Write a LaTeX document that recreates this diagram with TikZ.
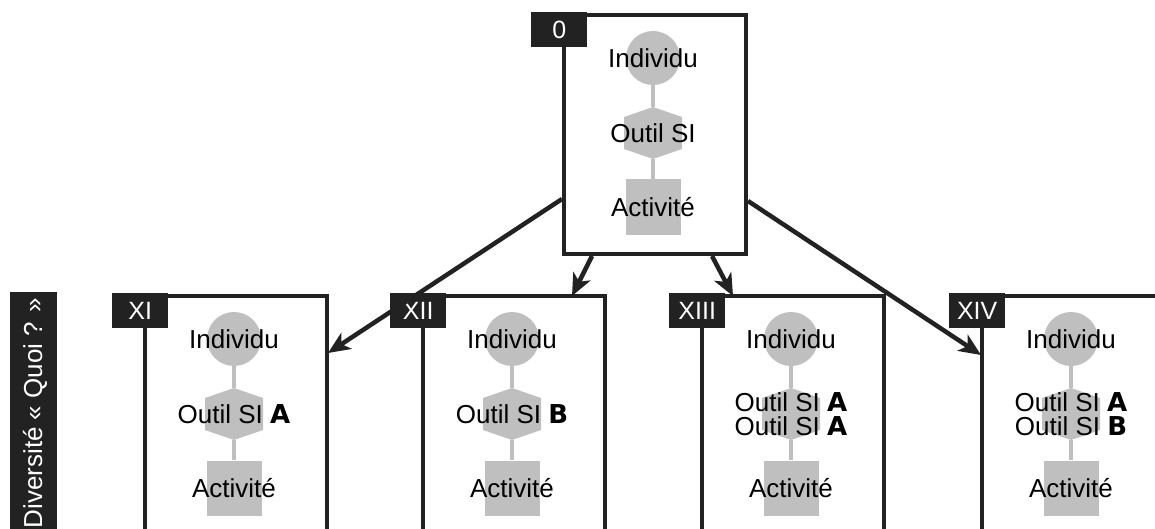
\documentclass[tikz,border=0pt]{standalone}
\usepackage{fontspec}
\setmainfont{Liberation Sans}
\newfontfamily\heavyfont{DejaVu Sans}
\usetikzlibrary{arrows.meta,calc}
\definecolor{ink}{HTML}{222222}
\definecolor{greyfill}{HTML}{BFBFBF}
\newcommand{\bA}{{\heavyfont\bfseries A}}
\newcommand{\bB}{{\heavyfont\bfseries B}}
\tikzset{
  frame/.style={draw=ink, line width=4pt, minimum width=182pt, inner sep=0pt},
  disc/.style={circle, fill=greyfill, minimum size=54pt, inner sep=0pt},
  sq/.style={rectangle, fill=greyfill, minimum size=55pt, inner sep=0pt},
  link/.style={draw=greyfill, line width=4.5pt},
  txt/.style={font=\fontsize{26}{24}\selectfont, align=center, inner sep=0pt, text=black},
  tag/.style={fill=ink, text=white, minimum width=56pt, minimum height=35pt, inner sep=0pt, font=\fontsize{25}{25}\selectfont},
  arr/.style={draw=ink, line width=4.5pt, -{Stealth[length=22pt,width=19pt,inset=6pt]}},
}
% #1 name, #2 x, #3 y, #4 height, #5 tag, #6 tool text
\newcommand{\unitbox}[6]{%
  \node[frame, minimum height=#4, anchor=north west] (#1) at (#2,#3) {};
  \node[disc] (#1-c) at ($(#1.north west)+(91,45)$) {};
  \coordinate (#1-h) at ($(#1.north west)+(91,120)$);
  \fill[greyfill] ($(#1-h)+(0,-26)$) coordinate (#1-ht) -- ++(29,10) -- ++(0,32) -- ++(-29,10) coordinate (#1-hb) -- ++(-29,-10) -- ++(0,-32) -- cycle;
  \node[sq] (#1-s) at ($(#1.north west)+(91,194)$) {};
  \draw[link] (#1-c.south) -- (#1-ht);
  \draw[link] (#1-hb) -- (#1-s.north);
  \node[txt] (#1-t1) at (#1-c) {Individu};
  \node[txt] (#1-t2) at (#1-h) {#6};
  \node[txt] (#1-t3) at (#1-s) {Activité};
  \node[tag, anchor=north west] (#1-tag) at ($(#1.north west)+(-31,-1)$) {#5};
}
\begin{document}
\begin{tikzpicture}[x=1pt,y=-1pt]
\useasboundingbox (0,0) rectangle (1155,529);
\clip (0,0) rectangle (1155,529);
\unitbox{b0}{562}{13}{239pt}{0}{Outil SI}
\unitbox{b11}{143}{294}{300pt}{XI}{Outil SI \bA}
\unitbox{b12}{421}{294}{300pt}{XII}{Outil SI \bB}
\unitbox{b13}{700}{294}{300pt}{XIII}{Outil SI \bA\\Outil SI \bA}
\unitbox{b14}{980}{294}{300pt}{XIV}{Outil SI \bA\\Outil SI \bB}
\node[fill=ink, minimum width=47pt, minimum height=260pt, inner sep=0pt, anchor=north west] (side) at (10,292) {};
\node[rotate=90, text=white, font=\fontsize{26}{26}\selectfont, inner sep=0pt] (sidetext) at (35,413) {Diversité « Quoi ? »};
\draw[arr] ($(b0.south west)+(0,-57)$) -- ($(b11.north east)+(-1,59)$);
\draw[arr] ($(b0.south west)+(30,0)$) -- ($(b12.north west)+(151,2)$);
\draw[arr] ($(b0.south west)+(150,0)$) -- ($(b13.north west)+(33,2)$);
\draw[arr] ($(b0.south east)+(0,-55)$) -- ($(b14.north west)+(1,61)$);
\end{tikzpicture}
\end{document}
